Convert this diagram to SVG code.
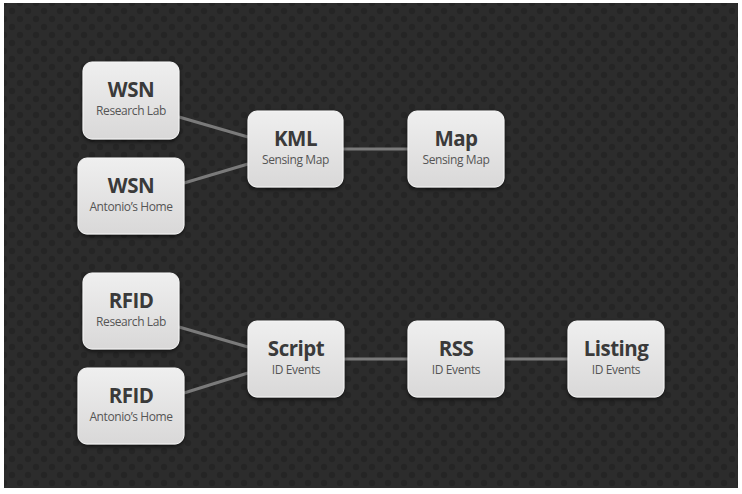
<svg xmlns="http://www.w3.org/2000/svg" width="742" height="494" viewBox="0 0 742 494">
<defs>
  <pattern id="dots" x="4" y="3" width="16" height="16" patternUnits="userSpaceOnUse">
    <rect width="16" height="16" fill="#2c2c2c"/>
    <circle cx="0" cy="0" r="3.2" fill="#252525"/>
    <circle cx="16" cy="0" r="3.2" fill="#252525"/>
    <circle cx="0" cy="16" r="3.2" fill="#252525"/>
    <circle cx="16" cy="16" r="3.2" fill="#252525"/>
    <circle cx="8" cy="8" r="3.2" fill="#252525"/>
  </pattern>
  <linearGradient id="boxg" x1="0" y1="0" x2="0" y2="1">
    <stop offset="0" stop-color="#efefef"/>
    <stop offset="1" stop-color="#d9d8d8"/>
  </linearGradient>
  <filter id="sh" x="-20%" y="-20%" width="140%" height="150%">
    <feDropShadow dx="0" dy="2" stdDeviation="2" flood-color="#000" flood-opacity="0.6"/>
  </filter>
</defs>
<style>
  .box { fill: url(#boxg); stroke: #f7f7f7; stroke-width: 1; filter: url(#sh); }
  .t { font-family: "Open Sans", "Liberation Sans", sans-serif; font-weight: bold; font-size: 20.5px; fill: #3a3a3a; text-anchor: middle; letter-spacing: -0.5px; }
  .s { font-family: "Open Sans", "Liberation Sans", sans-serif; font-size: 12px; fill: #555555; text-anchor: middle; letter-spacing: -0.4px; }
  .c { stroke: #7a7a7a; stroke-width: 3; fill: none; }
</style>
<rect width="742" height="494" fill="#ffffff"/>
<rect x="4" y="3" width="734" height="485" fill="url(#dots)"/>
<g id="connectors">
  <line class="c" x1="179" y1="117" x2="248" y2="137"/>
  <line class="c" x1="184" y1="183" x2="248" y2="164"/>
  <line class="c" x1="343" y1="149" x2="408" y2="149"/>
  <line class="c" x1="179" y1="327" x2="248" y2="347"/>
  <line class="c" x1="184" y1="393" x2="248" y2="373"/>
  <line class="c" x1="344" y1="359" x2="408" y2="359"/>
  <line class="c" x1="504" y1="359" x2="568" y2="359"/>
</g>
<g id="wsn-lab">
  <rect class="box" x="83" y="62" width="96" height="77" rx="9"/>
  <text class="t" x="131" y="97">WSN</text>
  <text class="s" x="131" y="115">Research Lab</text>
</g>
<g id="wsn-home">
  <rect class="box" x="78" y="158" width="106" height="76" rx="9"/>
  <text class="t" x="131" y="193">WSN</text>
  <text class="s" x="131" y="211">Antonio’s Home</text>
</g>
<g id="kml">
  <rect class="box" x="248" y="111" width="95" height="76" rx="9"/>
  <text class="t" x="295.5" y="146">KML</text>
  <text class="s" x="295.5" y="164">Sensing Map</text>
</g>
<g id="map">
  <rect class="box" x="408" y="111" width="96" height="76" rx="9"/>
  <text class="t" x="456" y="146">Map</text>
  <text class="s" x="456" y="164">Sensing Map</text>
</g>
<g id="rfid-lab">
  <rect class="box" x="83" y="273" width="96" height="76" rx="9"/>
  <text class="t" x="131" y="308">RFID</text>
  <text class="s" x="131" y="326">Research Lab</text>
</g>
<g id="rfid-home">
  <rect class="box" x="78" y="368" width="106" height="76" rx="9"/>
  <text class="t" x="131" y="403">RFID</text>
  <text class="s" x="131" y="421">Antonio’s Home</text>
</g>
<g id="script">
  <rect class="box" x="248" y="321" width="96" height="76" rx="9"/>
  <text class="t" x="296" y="356">Script</text>
  <text class="s" x="296" y="374">ID Events</text>
</g>
<g id="rss">
  <rect class="box" x="408" y="321" width="96" height="76" rx="9"/>
  <text class="t" x="456" y="356">RSS</text>
  <text class="s" x="456" y="374">ID Events</text>
</g>
<g id="listing">
  <rect class="box" x="568" y="321" width="96" height="76" rx="9"/>
  <text class="t" x="616" y="356">Listing</text>
  <text class="s" x="616" y="374">ID Events</text>
</g>
</svg>
